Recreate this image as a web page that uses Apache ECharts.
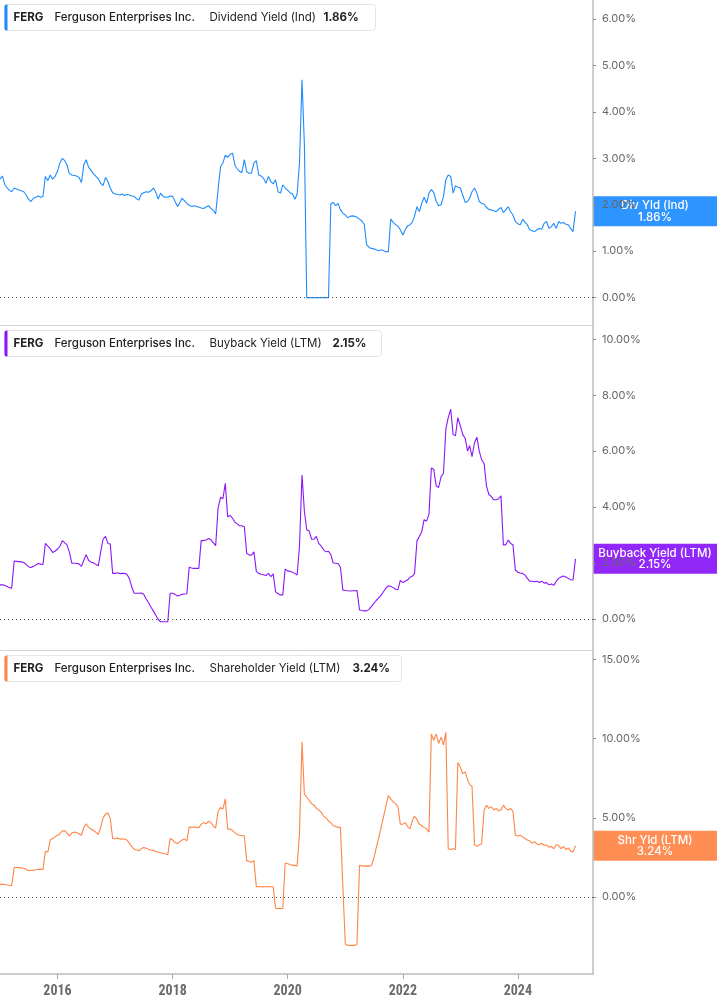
<!DOCTYPE html>
<html>
<head>
<meta charset="utf-8">
<title>FERG yields</title>
<script src="https://cdn.jsdelivr.net/npm/echarts@6/dist/echarts.min.js"></script>
<style>
  html, body { margin: 0; padding: 0; background: #fff; }
  #chart { width: 717px; height: 1005px; }
</style>
</head>
<body>
<div id="chart"></div>
<script>
// semi-monthly sample dates, 1st and 16th of each month, Jan 2015 .. Jan 2025
var dates = [];
for (var yr = 2015; yr <= 2024; yr++) {
  for (var mo = 1; mo <= 12; mo++) {
    var mm = (mo < 10 ? '0' : '') + mo;
    dates.push(yr + '-' + mm + '-01', yr + '-' + mm + '-16');
  }
}
dates.push('2025-01-01');

// Dividend Yield (Ind), %
var divYield = [
  2.55,2.62,2.43,2.36,2.31,2.28,2.36,2.34,2.32,2.30,2.28,2.21,2.12,2.07,2.14,2.16,2.19,2.16,2.18,2.61,2.52,2.64,2.55,2.61,
  2.72,2.90,3.00,2.95,2.86,2.67,2.64,2.63,2.62,2.59,2.48,2.86,2.97,2.81,2.74,2.67,2.61,2.56,2.46,2.41,2.59,2.50,2.36,2.26,
  2.23,2.22,2.21,2.23,2.20,2.22,2.21,2.19,2.18,2.13,2.10,2.23,2.26,2.28,2.27,2.30,2.36,2.27,2.12,2.25,2.18,2.16,2.16,2.19,
  2.18,2.07,1.96,2.05,2.14,2.09,2.03,1.99,1.96,1.98,1.96,1.95,1.93,1.92,1.95,1.98,1.92,1.88,1.80,2.32,2.82,2.90,3.07,3.02,
  3.09,3.11,2.84,2.77,2.72,2.69,2.97,2.71,2.68,2.68,2.90,2.95,2.64,2.62,2.57,2.46,2.61,2.50,2.45,2.54,2.28,2.25,2.43,2.36,
  2.31,2.26,2.23,2.12,2.23,2.90,4.69,3.30,0,0,0,0,0,0,0,0,0,0,2.02,2.05,1.98,2.03,1.89,1.82,
  1.78,1.72,1.75,1.76,1.75,1.73,1.69,1.65,1.58,1.14,1.08,1.06,1.05,1.03,1.01,1.03,1.01,0.99,0.99,1.69,1.62,1.57,1.54,1.46,
  1.35,1.46,1.55,1.57,1.62,1.75,1.96,1.85,2.03,2.16,2.03,2.25,2.33,2.26,2.07,1.98,2.00,2.18,2.54,2.64,2.61,2.25,2.41,2.38,
  2.36,2.21,2.05,2.07,2.14,2.28,2.36,2.25,2.07,2.03,2.01,1.94,1.90,1.89,1.87,1.85,1.90,1.94,1.83,1.89,1.96,1.85,1.78,1.64,
  1.59,1.57,1.69,1.62,1.57,1.46,1.44,1.42,1.46,1.49,1.47,1.60,1.64,1.49,1.53,1.60,1.49,1.64,1.60,1.62,1.58,1.57,1.49,1.42,
  1.86
];

// Buyback Yield (LTM), %
var buybackYield = [
  1.22,1.22,1.20,1.16,1.12,1.10,2.07,2.06,2.05,2.04,2.02,1.95,1.87,1.84,1.88,1.93,1.98,1.96,1.95,2.70,2.60,2.51,2.38,2.42,
  2.50,2.60,2.80,2.72,2.65,2.40,1.99,1.99,1.99,1.97,1.88,2.10,2.30,2.10,2.03,2.01,1.95,1.90,2.40,2.85,2.95,2.70,2.68,1.63,
  1.63,1.65,1.62,1.63,1.63,1.60,1.45,1.15,0.92,0.92,0.92,0.93,0.88,0.72,0.58,0.43,0.28,0.13,-0.02,-0.10,-0.10,-0.10,-0.10,0.92,
  0.92,0.88,0.82,0.85,0.88,0.89,0.90,1.85,1.82,1.81,1.81,1.81,2.80,2.80,2.82,2.88,2.83,2.72,2.62,3.95,4.35,4.30,4.85,3.65,
  3.70,3.60,3.45,3.40,3.33,3.33,3.30,2.35,2.29,2.28,2.40,1.70,1.63,1.60,1.58,1.55,1.63,1.51,1.61,0.98,0.90,0.86,0.86,1.78,
  1.72,1.70,1.67,1.62,1.57,2.60,5.15,3.85,3.18,3.15,2.85,2.85,2.95,2.70,2.60,2.47,2.40,2.42,2.30,2.00,1.99,1.98,1.85,1.04,
  1.02,1.01,1.00,1.01,1.01,1.02,0.32,0.30,0.29,0.29,0.35,0.45,0.56,0.66,0.75,0.85,0.98,1.10,1.19,1.17,1.12,1.06,1.05,1.38,
  1.30,1.35,1.40,1.50,1.52,1.62,2.80,2.95,3.12,3.55,3.50,3.75,5.40,5.35,4.75,4.70,5.10,5.20,6.80,7.20,7.50,6.60,6.55,7.20,
  6.90,6.60,6.45,6.00,6.20,5.80,6.30,6.50,6.00,5.70,5.55,4.75,4.45,4.38,4.26,4.26,4.30,4.40,2.65,2.65,2.82,2.70,2.65,1.75,
  1.67,1.64,1.62,1.57,1.45,1.35,1.35,1.33,1.35,1.30,1.35,1.28,1.30,1.22,1.25,1.20,1.35,1.45,1.50,1.54,1.50,1.45,1.40,1.39,
  2.15
];

// Shareholder Yield (LTM), %
var shareholderYield = [
  0.80,0.80,0.79,0.76,0.74,0.72,1.87,1.87,1.86,1.84,1.82,1.75,1.66,1.68,1.70,1.72,1.75,1.75,1.75,2.88,2.85,3.60,3.70,3.80,
  3.90,4.00,4.18,4.19,4.05,3.85,4.05,4.10,4.08,4.00,3.90,4.40,4.62,4.40,4.30,4.20,4.08,3.95,4.40,5.00,5.25,5.30,4.95,3.70,
  3.68,3.72,3.66,3.66,3.68,3.60,3.40,3.18,3.03,2.97,2.93,3.05,3.13,3.08,3.02,2.97,2.93,2.88,2.84,2.80,2.75,2.72,2.68,3.70,
  3.60,3.45,3.38,3.50,3.60,3.66,3.55,4.42,4.40,4.42,4.40,4.38,4.60,4.70,4.62,4.78,4.70,4.50,4.36,5.40,5.65,5.55,6.20,4.28,
  4.30,4.20,4.05,3.95,3.90,3.88,3.87,2.30,2.25,2.20,2.30,0.65,0.66,0.65,0.64,0.65,0.66,0.65,0.65,-0.72,-0.72,-0.73,-0.72,2.15,
  2.10,2.05,2.00,2.00,1.95,4.00,9.80,6.50,6.30,6.10,5.90,5.80,5.60,5.50,5.35,5.10,5.00,4.80,4.70,4.50,4.45,4.40,4.40,0.70,
  -3.00,-3.05,-3.05,-3.05,-3.05,-3.00,2.00,1.98,1.95,1.97,1.95,2.00,2.45,3.10,3.75,4.40,5.10,5.75,6.40,6.20,6.00,5.90,5.70,4.60,
  4.60,4.70,4.45,4.30,4.80,5.10,4.90,4.60,4.50,4.40,4.30,4.10,10.30,9.90,10.30,9.70,10.10,9.60,10.40,3.05,3.00,3.05,3.00,8.50,
  8.20,7.80,7.90,7.40,7.10,7.00,3.30,3.20,3.30,3.35,5.50,5.80,5.60,5.70,5.50,5.60,5.45,5.50,5.80,5.60,5.50,5.60,5.40,3.90,
  3.85,3.90,3.80,3.70,3.60,3.55,3.40,3.50,3.35,3.30,3.40,3.25,3.30,3.15,3.20,3.05,3.30,3.25,3.05,3.20,3.00,3.10,2.90,2.85,
  3.24
];

// axis tick labels
var divTicks = [0, 1, 2, 3, 4, 5, 6];
var buybackTicks = [0, 2, 4, 6, 8, 10];
var shareholderTicks = [0, 5, 10, 15];
var yearTicks = ['2016-01-01', '2018-01-01', '2020-01-01', '2022-01-01', '2024-01-01'];

var panels = [
  { name: 'Dividend Yield (Ind)', short: 'Div Yld (Ind)', data: divYield, ticks: divTicks,
    min: -0.59, max: 6.41, color: '#1e8cff', legendTop: 4, legendW: 371, valueX: 319 },
  { name: 'Buyback Yield (LTM)', short: 'Buyback Yield (LTM)', data: buybackYield, ticks: buybackTicks,
    min: -1.11, max: 10.51, color: '#8a17fa', legendTop: 330, legendW: 377, valueX: 328 },
  { name: 'Shareholder Yield (LTM)', short: 'Shr Yld (LTM)', data: shareholderYield, ticks: shareholderTicks,
    min: -4.86, max: 15.6, color: '#ff8547', legendTop: 655, legendW: 397, valueX: 348 }
];

var FONT = 'Inter, Roboto, "Noto Sans", sans-serif';
function ts(d) { return +echarts.time.parse(d); }
var xMin = ts('2015-01-01');
var xMax = ts('2025-04-22');
var times = dates.map(ts);
var yearTickTimes = yearTicks.map(ts);

var chart = echarts.init(document.getElementById('chart'));

var grids = [], xAxes = [], yAxes = [], series = [], graphics = [];
panels.forEach(function (p, k) {
  var last = k === 2;
  grids.push({ left: 0, right: 124, top: k * 325, height: last ? 324 : 325 });
  xAxes.push({
    type: 'value', gridIndex: k, min: xMin, max: xMax,
    axisLine: { show: true, onZero: false, lineStyle: { color: last ? '#bdbdbd' : '#d6d6d6', width: last ? 1.5 : 1 } },
    axisTick: { show: last, length: 5, lineStyle: { color: '#aaa' }, customValues: yearTickTimes },
    axisLabel: { show: last, margin: 10, color: '#6b6b6b', fontSize: 14, fontWeight: 'bold',
      fontFamily: '"Liberation Sans Narrow", "Roboto Condensed", "DejaVu Sans Condensed", sans-serif',
      customValues: yearTickTimes,
      formatter: function (v) { return String(new Date(v).getFullYear()); } },
    splitLine: { show: false }
  });
  yAxes.push({
    type: 'value', gridIndex: k, position: 'right', min: p.min, max: p.max,
    axisLine: { show: true, lineStyle: { color: '#bdbdbd', width: 1.5 } },
    axisTick: { show: true, length: 3, lineStyle: { color: '#888' }, customValues: p.ticks },
    axisLabel: { margin: 9, color: '#666', fontSize: 11, fontFamily: FONT, customValues: p.ticks,
      formatter: function (v) { return v.toFixed(2) + '%'; } },
    splitLine: { show: false }
  });
  series.push({
    type: 'line', name: p.name, xAxisIndex: k, yAxisIndex: k,
    data: times.map(function (t, i) { return [t, p.data[i]]; }),
    showSymbol: false, color: p.color, lineStyle: { width: 1.1, color: p.color },
    markLine: {
      silent: true, symbol: 'none', label: { show: false },
      lineStyle: { color: '#555', type: [1, 3], width: 1 },
      data: [{ yAxis: 0 }]
    }
  });
  var lastVal = p.data[p.data.length - 1].toFixed(2) + '%';
  graphics.push({
    type: 'group', left: 4, top: p.legendTop, z: 100,
    children: [
      { type: 'rect', shape: { x: 0, y: 0, width: p.legendW, height: 26, r: 3 },
        style: { fill: '#fff', stroke: '#e4e4e4', lineWidth: 1 } },
      { type: 'rect', shape: { x: 0, y: 0, width: 3, height: 26, r: [2, 0, 0, 2] }, style: { fill: p.color } },
      { type: 'text', x: 9, y: 13, style: { text: 'FERG', font: 'bold 11.5px ' + FONT, fill: '#222', verticalAlign: 'middle' } },
      { type: 'text', x: 50, y: 13, style: { text: 'Ferguson Enterprises Inc.', font: '500 11.5px ' + FONT, fill: '#222', verticalAlign: 'middle' } },
      { type: 'text', x: 205, y: 13, style: { text: p.name, font: '11.5px ' + FONT, fill: '#222', verticalAlign: 'middle' } },
      { type: 'text', x: p.valueX, y: 13, style: { text: lastVal, font: 'bold 11.5px ' + FONT, fill: '#222', verticalAlign: 'middle' } }
    ]
  });
});

chart.setOption({
  animation: false,
  textStyle: { fontFamily: FONT },
  grid: grids,
  xAxis: xAxes,
  yAxis: yAxes,
  series: series,
  graphic: graphics
});

// value tags on the right axis, placed through the axis scales
panels.forEach(function (p, k) {
  var v = p.data[p.data.length - 1];
  var y = chart.convertToPixel({ yAxisIndex: k }, v);
  var x0 = chart.convertToPixel({ xAxisIndex: k }, xMax);
  var w = chart.getWidth() - x0;
  graphics.push({
    type: 'group', x: x0, y: y - 15, z: 110,
    children: [
      { type: 'rect', shape: { x: 0, y: 0, width: w, height: 30 }, style: { fill: p.color, opacity: 0.93 } },
      { type: 'text', x: w / 2, y: 9.5, style: { text: p.short, font: '500 11.5px ' + FONT, fill: '#fff', align: 'center', verticalAlign: 'middle' } },
      { type: 'text', x: w / 2, y: 21, style: { text: v.toFixed(2) + '%', font: '500 11.5px ' + FONT, fill: '#fff', align: 'center', verticalAlign: 'middle' } }
    ]
  });
});
chart.setOption({ graphic: graphics });
</script>
</body>
</html>
